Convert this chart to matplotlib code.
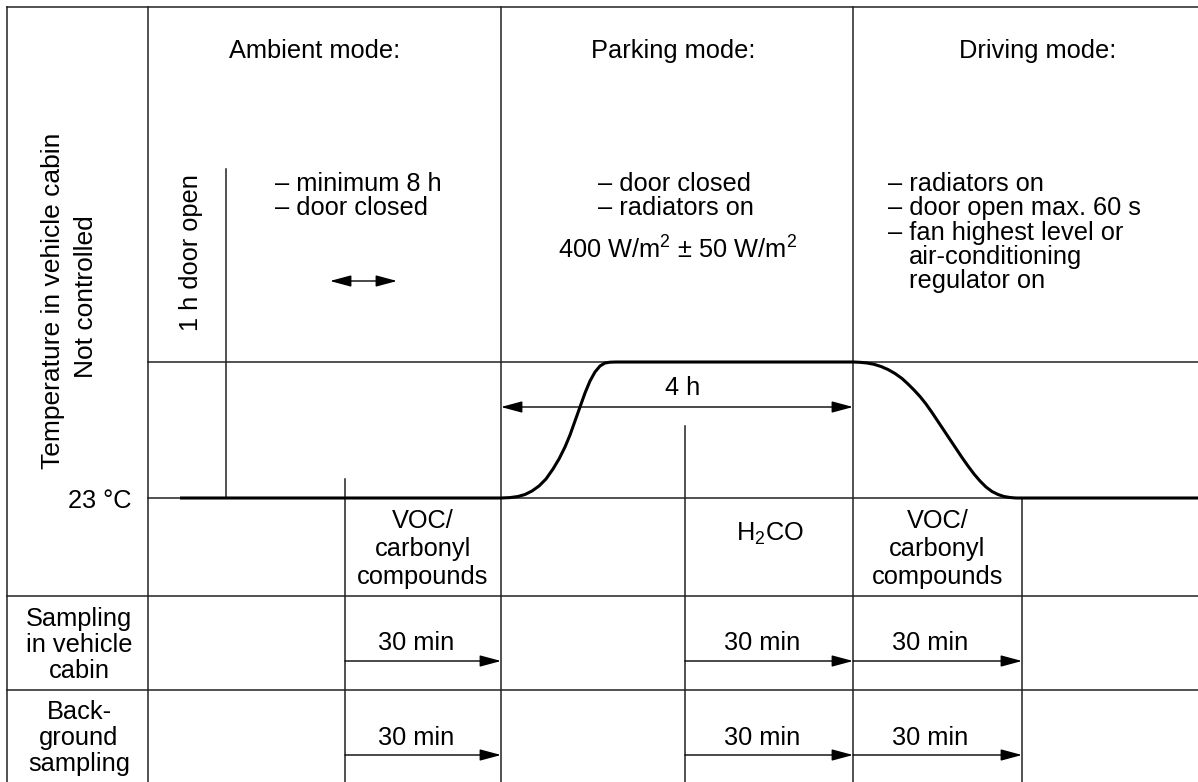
import matplotlib
matplotlib.use("Agg")
import matplotlib.pyplot as plt

plt.rcParams['font.family'] = ['Liberation Sans', 'DejaVu Sans']
plt.rcParams['mathtext.fontset'] = 'custom'
plt.rcParams['mathtext.rm'] = 'Liberation Sans'
plt.rcParams['mathtext.default'] = 'regular'

# diagram coordinates (pixel grid of the 1198x782 sheet, y downwards)
col_x = [148, 501, 853]
mode_titles = ['Ambient mode:', 'Parking mode:', 'Driving mode:']
mode_title_x = [315, 673, 1038]

ambient_notes = ['– minimum 8 h', '– door closed']
parking_notes = ['– door closed', '– radiators on']
driving_notes = ['– radiators on', '– door open max. 60 s', '– fan highest level or',
                 'air-conditioning', 'regulator on']
power_text = '400 W/m$^2$ ± 50 W/m$^2$'

# temperature curve
rise_x = [180, 501, 510, 518, 525, 532, 539, 546, 553, 559, 565, 570, 575,
          580, 585, 590, 595, 600, 605, 610, 616]
rise_y = [498, 498, 497.6, 496.5, 494.5, 491, 486, 479, 469, 459, 447, 435, 421,
          407, 393, 381, 372, 366, 363, 362.2, 362]
fall_x = [853, 860, 867, 874, 881, 888, 895, 902, 908, 914, 920, 926, 932, 938,
          944, 950, 956, 962, 968, 974, 980, 986, 992, 998, 1004, 1010, 1016, 1022, 1198]
fall_y = [362, 362.3, 363, 364.3, 366.5, 369.5, 373.5, 378.5, 384, 390, 396.5, 404,
          412.5, 421.5, 430.5, 439.5, 448.5, 457.5, 466, 474, 481, 487, 491.5, 494.5,
          496.5, 497.5, 498, 498, 498]

# sampling windows
sample_start = [345, 685, 853]
sample_end = [501, 853, 1022]
sample_dur = ['30 min', '30 min', '30 min']
analytes = [['VOC/', 'carbonyl', 'compounds'], ['H$_2$CO'], ['VOC/', 'carbonyl', 'compounds']]
row_labels = [['Sampling', 'in vehicle', 'cabin'], ['Back-', 'ground', 'sampling']]
row_arrow_y = [661, 755]
row_text_y = [650, 745]

fs = 18.3
lw_thin = 1.1
lw_thick = 2.2

fig = plt.figure(figsize=(11.98, 7.82), dpi=100)
ax = fig.add_axes([0, 0, 1, 1])
ax.set_xlim(0, 1198)
ax.set_ylim(782, 0)
ax.axis('off')

# frame
ax.plot([7, 1198], [7, 7], color='#222', lw=lw_thin)
ax.plot([7, 7], [7, 782], color='#222', lw=lw_thin)
for x in col_x:
    ax.plot([x, x], [7, 782], color='#222', lw=lw_thin)
ax.plot([148, 1198], [362, 362], color='#222', lw=lw_thin)
ax.plot([148, 1198], [498, 498], color='#222', lw=lw_thin)
ax.plot([7, 1198], [596, 596], color='#222', lw=lw_thin)
ax.plot([7, 1198], [690, 690], color='#222', lw=lw_thin)
ax.plot([226, 226], [169, 498], color='#222', lw=lw_thin)
for x, y0 in zip([345, 685, 1022], [479, 426, 498]):
    ax.plot([x, x], [y0, 782], color='#222', lw=lw_thin)

# temperature curve
ax.plot(rise_x + fall_x, rise_y + fall_y, color='black', lw=lw_thick,
        solid_capstyle='butt', solid_joinstyle='round')

# titles
for t, x in zip(mode_titles, mode_title_x):
    ax.text(x, 58, t, fontsize=fs, ha='center', va='baseline')

for i, t in enumerate(ambient_notes):
    ax.text(275, 191 + 24 * i, t, fontsize=fs, ha='left', va='baseline')
for i, t in enumerate(parking_notes):
    ax.text(598, 191 + 24 * i, t, fontsize=fs, ha='left', va='baseline')
ax.text(678, 259, power_text, fontsize=fs, ha='center', va='baseline')
for i, t in enumerate(driving_notes):
    x = 888 if t.startswith('–') else 909
    ax.text(x, 191 + 24.3 * i, t, fontsize=fs, ha='left', va='baseline')

# left labels
ax.text(53, 301, 'Temperature in vehicle cabin', fontsize=19, rotation=90, ha='center', va='center')
ax.text(86, 297, 'Not controlled', fontsize=19, rotation=90, ha='center', va='center')
ax.text(191, 253, '1 h door open', fontsize=fs, rotation=90, ha='center', va='center')
ax.text(132, 508, '23 °C', fontsize=fs, ha='right', va='baseline')

arrow = dict(arrowstyle='-|>,head_length=1.3,head_width=0.35', mutation_scale=10,
             color='black', lw=1.0, shrinkA=0, shrinkB=0)
darrow = dict(arrow, arrowstyle='<|-|>,head_length=1.3,head_width=0.35')

# ambient double arrow and 4 h arrow
ax.annotate('', xy=(397, 281), xytext=(330, 281), arrowprops=darrow)
ax.annotate('', xy=(853, 407), xytext=(501, 407), arrowprops=darrow)
ax.text(683, 395, '4 h', fontsize=fs, ha='center', va='baseline')

# analytes
for s, e, lines in zip(sample_start, sample_end, analytes):
    cx = (s + e) / 2
    if len(lines) == 1:
        ax.text(cx + 1, 541, lines[0], fontsize=fs, ha='center', va='baseline')
    else:
        for j, t in enumerate(lines):
            ax.text(cx, 528 + 28 * j, t, fontsize=fs, ha='center', va='baseline')

# sampling rows
for r, lines in enumerate(row_labels):
    for j, t in enumerate(lines):
        ax.text(79, [626, 719][r] + 26 * j, t, fontsize=fs, ha='center', va='baseline')
    for s, e, d in zip(sample_start, sample_end, sample_dur):
        ax.annotate('', xy=(e, row_arrow_y[r]), xytext=(s, row_arrow_y[r]), arrowprops=arrow)
        ax.text((s + e) / 2 - 7, row_text_y[r], d, fontsize=fs, ha='center', va='baseline')

fig.savefig('out.png', dpi=100)
